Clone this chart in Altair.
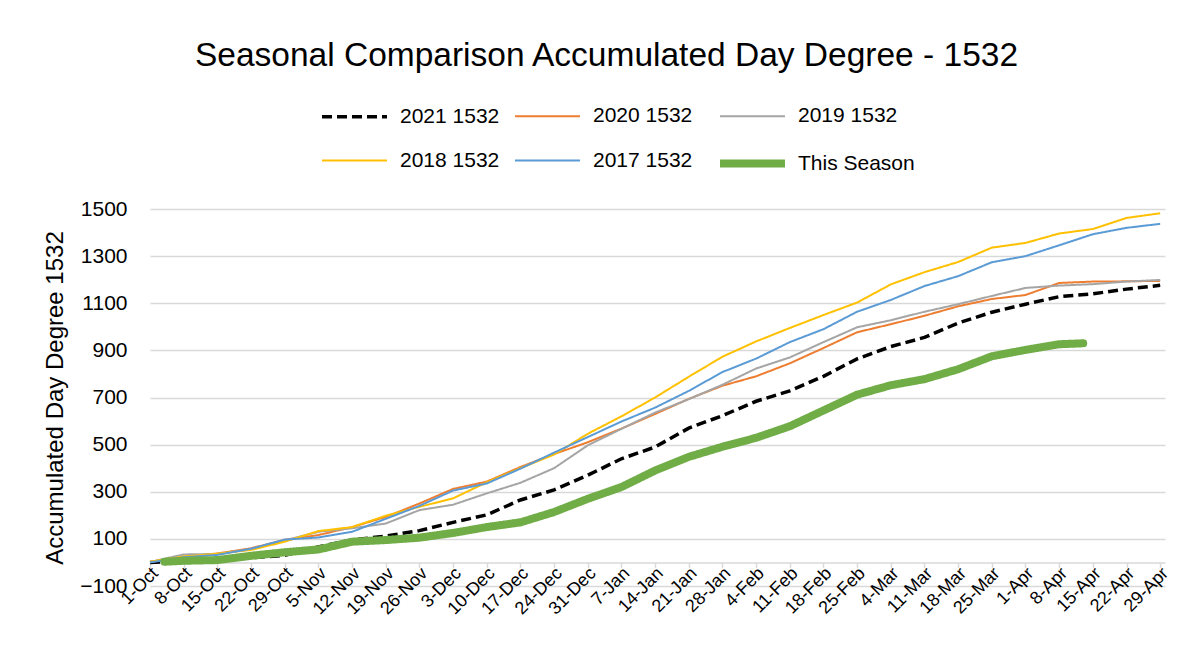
import altair as alt
import pandas as pd

# ---- data ----
series_names = ["2021 1532", "2020 1532", "2019 1532", "2018 1532", "2017 1532", "This Season"]
series_colors = ["#000000", "#ED7D31", "#A5A5A5", "#FFC000", "#5B9BD5", "#70AD47"]

days = [0, 7, 14, 21, 28, 35, 42, 49, 56, 63, 70, 77, 84, 91, 98, 105, 112, 119, 126, 133,
        140, 147, 154, 161, 168, 175, 182, 189, 196, 203, 210]

y2021 = [0, 8, 12, 20, 30, 66, 95, 112, 135, 170, 202, 265, 308, 370, 440, 490, 570, 623, 684, 728,
         790, 864, 916, 955, 1016, 1062, 1096, 1128, 1140, 1160, 1176]
y2020 = [2, 25, 38, 60, 96, 116, 150, 193, 250, 312, 343, 405, 460, 510, 568, 630, 694, 750, 790, 845,
         910, 977, 1011, 1047, 1087, 1118, 1135, 1186, 1192, 1193, 1195]
y2019 = [2, 34, 36, 56, 93, 130, 145, 165, 222, 245, 293, 338, 400, 497, 567, 636, 693, 754, 823, 870,
         935, 998, 1028, 1064, 1096, 1131, 1165, 1175, 1181, 1192, 1199]
y2018 = [3, 25, 37, 53, 88, 133, 150, 198, 236, 272, 340, 400, 458, 546, 620, 700, 788, 873, 938, 995,
         1050, 1103, 1180, 1232, 1275, 1336, 1356, 1396, 1415, 1462, 1482]
y2017 = [0, 22, 32, 58, 97, 106, 130, 185, 240, 305, 335, 398, 466, 532, 598, 657, 728, 808, 865, 935,
         990, 1064, 1114, 1173, 1215, 1274, 1300, 1346, 1393, 1420, 1437]

season_days = [3, 7, 14, 21, 28, 35, 42, 49, 56, 63, 70, 77, 84, 91, 98, 105, 112, 119, 126, 133,
               140, 147, 154, 161, 168, 175, 182, 189, 194]
season_values = [3, 7, 10, 28, 43, 55, 88, 95, 105, 125, 150, 170, 214, 270, 320, 390, 448, 491, 529, 578,
                 645, 712, 752, 778, 820, 875, 902, 926, 930]

tick_days = list(range(0, 211, 7))
tick_labels = ["1-Oct", "8-Oct", "15-Oct", "22-Oct", "29-Oct", "5-Nov", "12-Nov", "19-Nov", "26-Nov",
               "3-Dec", "10-Dec", "17-Dec", "24-Dec", "31-Dec", "7-Jan", "14-Jan", "21-Jan", "28-Jan",
               "4-Feb", "11-Feb", "18-Feb", "25-Feb", "4-Mar", "11-Mar", "18-Mar", "25-Mar", "1-Apr",
               "8-Apr", "15-Apr", "22-Apr", "29-Apr"]
y_ticks = [-100, 100, 300, 500, 700, 900, 1100, 1300, 1500]

# ---- build table ----
rows = []
for name, vals in zip(series_names[:5], [y2021, y2020, y2019, y2018, y2017]):
    for d, v in zip(days, vals):
        rows.append({"series": name, "day": d, "value": v})
for d, v in zip(season_days, season_values):
    rows.append({"series": "This Season", "day": d, "value": v})
df = pd.DataFrame(rows)

FONT = "Liberation Sans"
label_expr = "[" + ",".join("'%s'" % t for t in tick_labels) + "][round(datum.value / 7)]"

legend = alt.Legend(
    title=None, orient="none", legendX=168, legendY=-127, columns=3, direction="horizontal",
    symbolType="stroke", symbolSize=4225, labelFontSize=21, labelFont=FONT,
    labelColor="#000000", labelOffset=9, columnPadding=11, rowPadding=0,
)

color = alt.Color("series:N", scale=alt.Scale(domain=series_names, range=series_colors), legend=legend)
dash = alt.StrokeDash("series:N", scale=alt.Scale(type="ordinal", domain=series_names,
                      range=[[10, 5], [1, 0], [1, 0], [1, 0], [1, 0], [1, 0]]), legend=legend)
width = alt.StrokeWidth("series:N", scale=alt.Scale(type="ordinal", domain=series_names,
                        range=[3.5, 2, 2, 2, 2, 8]), legend=legend)

x = alt.X("day:Q", scale=alt.Scale(domain=[0, 211], nice=False, zero=False),
          axis=alt.Axis(values=tick_days, labelExpr=label_expr, labelAngle=-45, labelAlign="right",
                        labelBaseline="middle", offset=-23.6, grid=False, domainColor="#d9d9d9",
                        domainWidth=1.5, tickColor="#d9d9d9", tickSize=5, tickWidth=1.5,
                        labelFontSize=18, labelFont=FONT, labelColor="#000000", title=None,
                        labelPadding=3, labelOffset=5, labelOverlap=False, labelFlush=False))
y = alt.Y("value:Q", scale=alt.Scale(domain=[-100, 1500], nice=False, zero=False),
          axis=alt.Axis(values=y_ticks, format="d", title="Accumulated Day Degree 1532", titleFontSize=24,
                        titleFont=FONT, titleFontWeight="normal", titleColor="#000000",
                        labelFontSize=21, labelFont=FONT, labelColor="#000000", domain=False,
                        ticks=False, labelPadding=23, titlePadding=12, gridColor="#d9d9d9",
                        gridWidth=1.5))

base = alt.Chart(df)
past = base.transform_filter(alt.datum.series != "This Season").mark_line().encode(
    x=x, y=y, color=color, strokeDash=dash, strokeWidth=width, detail="series:N")
season = base.transform_filter(alt.datum.series == "This Season").mark_line(
    strokeCap="round", strokeJoin="round").encode(
    x=x, y=y, color=color, strokeDash=dash, strokeWidth=width)

chart = alt.layer(past, season).properties(
    width=1015, height=377,
    title=alt.TitleParams("Seasonal Comparison Accumulated Day Degree - 1532", fontSize=33.5, font=FONT,
                          fontWeight="normal", color="#000000", anchor="middle", frame="group",
                          dx=-51, offset=9),
    autosize=alt.AutoSizeParams(type="none"),
    padding={"left": 142, "top": 201, "right": 30, "bottom": 70},
    background="white",
).configure_view(stroke="transparent")

chart.save("out.html", embed_options={"renderer": "svg", "actions": False})
